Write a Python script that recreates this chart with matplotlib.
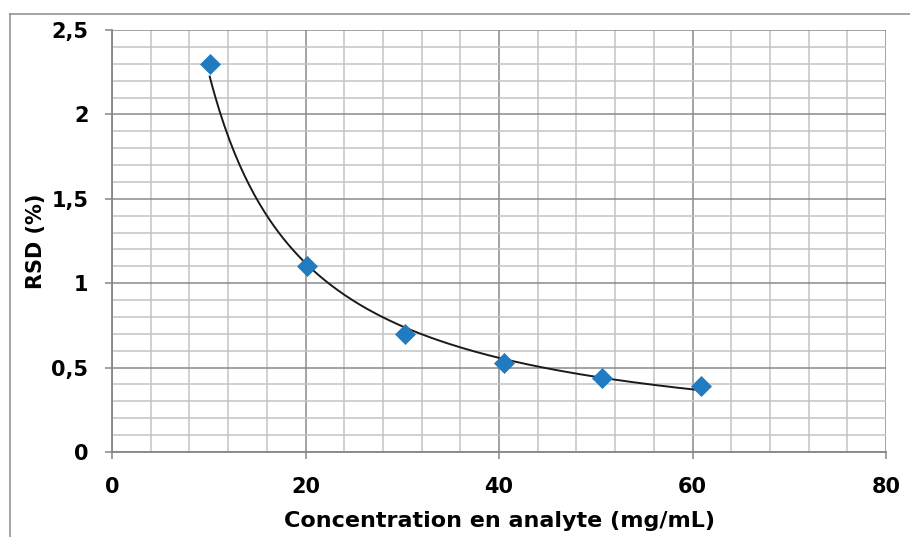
import numpy as np
import matplotlib
matplotlib.use("Agg")
import matplotlib.pyplot as plt
from matplotlib.ticker import MultipleLocator, FuncFormatter
from matplotlib.lines import Line2D

concentration = [10.1, 20.2, 30.3, 40.5, 50.6, 60.9]
rsd = [2.30, 1.10, 0.70, 0.53, 0.44, 0.39]
x_label = "Concentration en analyte (mg/mL)"
y_label = "RSD (%)"

plt.rcParams['font.family'] = ['DejaVu Sans']
plt.rcParams['font.weight'] = 'bold'

fig = plt.figure(figsize=(9.10, 5.37), dpi=100)
W, H = 910, 537
ax = fig.add_axes([112 / W, 1 - 452 / H, (886 - 112) / W, (452 - 30) / H])

# outer chart frame (partially visible)
fig.add_artist(Line2D([10 / W, 1.0], [1 - 14 / H, 1 - 14 / H], transform=fig.transFigure,
                      color='#8c8c8c', lw=1.1))
fig.add_artist(Line2D([10 / W, 10 / W], [0.0, 1 - 14 / H], transform=fig.transFigure,
                      color='#8c8c8c', lw=1.1))

ax.set_xlim(0, 80)
ax.set_ylim(0, 2.5)
ax.xaxis.set_major_locator(MultipleLocator(20))
ax.xaxis.set_minor_locator(MultipleLocator(4))
ax.yaxis.set_major_locator(MultipleLocator(0.5))
ax.yaxis.set_minor_locator(MultipleLocator(0.1))
ax.grid(which='minor', color='#c4c4c4', lw=1.1)
ax.grid(which='major', color='#8a8a8a', lw=1.1)
ax.set_axisbelow(True)

fmt = FuncFormatter(lambda v, p: ('%g' % v).replace('.', ','))
ax.yaxis.set_major_formatter(fmt)
ax.xaxis.set_major_formatter(FuncFormatter(lambda v, p: '%d' % v))

for s in ['top', 'right']:
    ax.spines[s].set_visible(False)
for s in ['left', 'bottom']:
    ax.spines[s].set_color('#868686')
    ax.spines[s].set_linewidth(1.3)

ax.tick_params(which='major', length=5, width=1.1, color='#868686', labelsize=15, pad=13)
ax.tick_params(axis='y', which='major', pad=12)
ax.tick_params(which='minor', length=0)
for lab in ax.get_xticklabels() + ax.get_yticklabels():
    lab.set_fontweight('bold')

# power trendline from the data
cx = np.array(concentration)
cy = np.array(rsd)
b, ln_a = np.polyfit(np.log(cx), np.log(cy), 1)
xf = np.linspace(cx.min(), cx.max(), 200)
ax.plot(xf, np.exp(ln_a) * xf ** b, color='#1a1a1a', lw=1.4, zorder=3)

ax.plot(concentration, rsd, linestyle='none', marker='D', markersize=10.5,
        color='#207bc0', markeredgecolor='#207bc0', markeredgewidth=0.5, zorder=4,
        clip_on=False)

ax.set_xlabel(x_label, fontsize=16, fontweight='bold', labelpad=10)
ax.set_ylabel(y_label, fontsize=15, fontweight='bold', labelpad=4)

fig.savefig('out.png', dpi=100)
